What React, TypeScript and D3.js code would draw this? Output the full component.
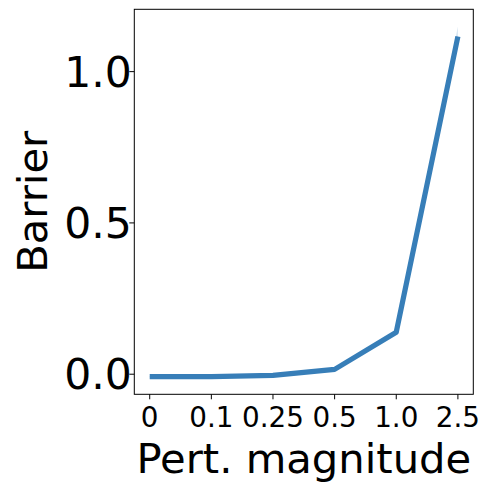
import React from "react";
import * as d3 from "d3";

const categories = ["0", "0.1", "0.25", "0.5", "1.0", "2.5"];
const meanValues = [-0.008, -0.008, -0.004, 0.016, 0.139, 1.116];
const upperValues = [-0.006, -0.006, -0.002, 0.02, 0.145, 1.149];
const lowerValues = [-0.01, -0.01, -0.006, 0.012, 0.133, 1.083];
const yTicks = [0, 0.5, 1.0];

const W = 491, H = 491;
const L = 134.3, R = 473.3, T = 9.3, B = 394.3;
const COLOR = "#377eb8";
const FONT = "DejaVu Sans, sans-serif";

export default function App() {
  const x = d3.scaleLinear().domain([-0.25, categories.length - 0.75]).range([L, R]);
  const y = d3.scaleLinear().domain([-0.0664, 1.206]).range([B, T]);
  const idx = categories.map((_, i) => i);
  const line = d3.line<number>().x((i) => x(i)).y((i) => y(meanValues[i]));
  const area = d3
    .area<number>()
    .x((i) => x(i))
    .y0((i) => y(lowerValues[i]))
    .y1((i) => y(upperValues[i]));

  return (
    <svg width={W} height={H} style={{ position: "absolute", left: 0, top: 0, background: "#fff" }}>
      <rect x={0} y={0} width={W} height={H} fill="#fff" />
      <path d={area(idx) || ""} fill={COLOR} fillOpacity={0.2} />
      <path d={line(idx) || ""} fill="none" stroke={COLOR} strokeWidth={5.2} strokeLinejoin="round" />
      <rect x={L} y={T} width={R - L} height={B - T} fill="none" stroke="#000" strokeWidth={1} />
      {yTicks.map((t) => (
        <g key={t}>
          <line x1={L - 5} x2={L} y1={y(t)} y2={y(t)} stroke="#000" strokeWidth={1} />
          <text
            x={L - 2.5}
            y={y(t) + 15}
            textAnchor="end"
            fontFamily={FONT}
            fontSize={42.5}
            fill="#000"
          >
            {t.toFixed(1)}
          </text>
        </g>
      ))}
      {categories.map((c, i) => (
        <g key={c}>
          <line x1={x(i)} x2={x(i)} y1={B} y2={B + 5} stroke="#000" strokeWidth={1} />
          <text x={x(i)} y={427.3} textAnchor="middle" fontFamily={FONT} fontSize={27.8} fill="#000">
            {c}
          </text>
        </g>
      ))}
      <text x={(L + R) / 2} y={473.3} textAnchor="middle" fontFamily={FONT} fontSize={41.7} fill="#000">
        Pert. magnitude
      </text>
      <text
        transform={`translate(47,${(T + B) / 2}) rotate(-90)`}
        textAnchor="middle"
        fontFamily={FONT}
        fontSize={41.7}
        fill="#000"
      >
        Barrier
      </text>
    </svg>
  );
}
